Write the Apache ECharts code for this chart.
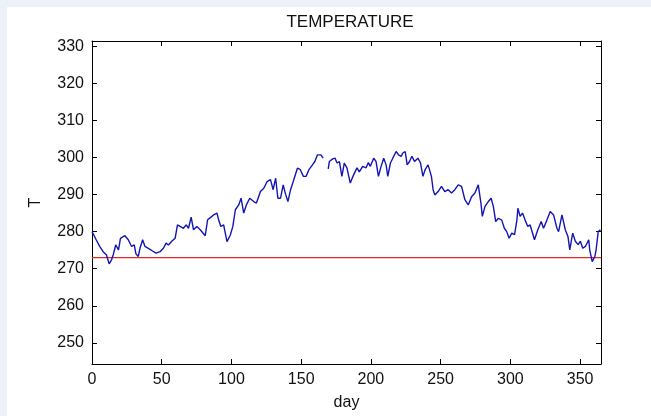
<!DOCTYPE html>
<html>
<head>
<meta charset="utf-8">
<script src="https://cdn.jsdelivr.net/npm/echarts@6/dist/echarts.min.js"></script>
<style>
  html, body { margin: 0; padding: 0; background: #edf2f9; width: 651px; height: 416px; overflow: hidden; }
  #bg { position: absolute; left: 7px; top: 7px; width: 644px; height: 409px; background: #ffffff; }
  #chart { position: absolute; left: 0; top: 0; width: 651px; height: 416px; }
</style>
</head>
<body>
<div id="bg"></div>
<div id="chart"></div>
<script>
// Day of year and temperature (K)
const days = [0,3,5.5,8,10.4,12.3,14,15.2,17,19,20.4,23.6,26,28.4,30.3,31.5,33.2,34.4,36.3,38,40.4,42.8,45.9,48.8,51.2,53.1,54.8,57.2,59.6,61.3,63.2,65.6,67.5,69.2,71.1,72.8,75.2,77.6,81.2,82.9,85.3,87.2,89.6,90.8,92.4,94.4,96.8,99.2,101,102.8,105.2,106.9,108.8,110.7,113.1,116,117.9,120.8,123.2,125.6,128,129.9,131.7,133.3,135.2,137.1,138.8,140.5,142.4,144.3,147.3,149.2,151.6,153.5,155.7,158.1,159.8,161.7,164.1,165.8,167.5,169.4,170.2,172.6,174.3,175.7,177.4,179.2,180.9,182.8,185.2,187.6,190,191.7,194.1,196.5,198.2,199.6,202,203.7,205.4,207.3,209.2,210.9,212.1,214,215.7,218.1,219.8,221.7,222.9,224.6,226,227.7,229.4,231.3,233.7,235.6,237.3,239,241,242.2,243.4,244.6,245.8,248.2,250.6,253,255.4,257.8,260.2,262.6,265,267.4,269.8,272.2,274.6,277,278.9,279.9,281.8,284.2,286.2,287.8,289.5,291.4,293.8,295.7,297.4,299.1,301,303,304.7,305.4,307,308.7,310.6,312.5,314.2,317.3,319.7,322.1,323.8,326.2,328.6,331,333.4,334.6,337,339.4,341.3,342.6,344.7,346.6,348.6,350.2,351.9,353.8,356.2,356.9,358.7,360.6,361.5,363,364.6];
const temps = [280.0,277.8,276.0,274.6,273.7,271.3,272.4,273.7,276.4,275.1,278.2,278.9,277.8,276.0,276.4,274.0,273.3,275.5,277.8,276.0,275.5,274.9,274.2,274.6,275.5,276.9,276.4,277.4,278.2,281.8,281.4,280.9,281.8,280.9,283.9,280.5,281.4,280.5,278.9,283.2,283.9,284.5,285.0,283.2,281.4,281.8,277.3,279.1,281.4,285.9,287.2,289.0,285.0,287.2,289.0,288.1,287.7,290.8,291.7,293.5,294.0,291.3,294.4,289.0,289.0,292.6,290.1,288.1,291.3,293.5,297.1,296.8,294.9,294.9,296.8,298.0,298.9,300.7,300.7,299.8,null,296.9,298.9,299.6,299.8,298.5,298.9,294.9,298.5,297.2,293.1,295.3,297.2,296.1,297.6,297.2,298.6,297.6,299.8,298.9,294.9,297.6,299.8,298.0,294.9,298.5,299.8,301.6,300.7,300.3,301.2,301.6,298.0,298.9,300.3,298.9,299.8,298.5,294.9,296.8,298.0,298.5,294.9,291.3,289.9,290.8,292.2,290.8,291.3,290.4,291.3,292.6,292.2,288.6,287.2,289.4,290.4,292.6,287.7,284.1,286.8,288.1,289.0,286.8,282.7,283.6,283.1,280.9,280.0,278.2,279.6,279.2,283.1,286.3,284.1,285.0,283.1,281.4,281.8,277.8,280.5,282.7,280.9,283.1,285.4,284.5,280.9,280.0,284.5,280.5,278.7,275.1,279.6,277.4,276.5,277.4,275.5,276.0,277.8,275.1,271.9,273.3,275.1,280.0,280.5];
const freezingLine = [[0, 273], [365, 273]];
const xTicks = [0, 50, 100, 150, 200, 250, 300, 350];
const yTicks = [250, 260, 270, 280, 290, 300, 310, 320, 330];

const tempData = days.map((d, i) => [d, temps[i]]);

const font = "'Liberation Sans', Arial, sans-serif";
const X_MIN = 0, X_MAX = 365, Y_MIN = 244.3, Y_MAX = 331.4;

const chart = echarts.init(document.getElementById('chart'), null, { renderer: 'canvas' });

const baseX = {
  type: 'value', min: X_MIN, max: X_MAX,
  axisLine: { show: true, onZero: false, lineStyle: { color: '#000', width: 1 } },
  axisTick: { show: true, inside: true, length: 5, customValues: xTicks, lineStyle: { color: '#000' } },
  splitLine: { show: false }
};
const baseY = {
  type: 'value', min: Y_MIN, max: Y_MAX,
  axisLine: { show: true, onZero: false, lineStyle: { color: '#000', width: 1 } },
  axisTick: { show: true, inside: true, length: 5, customValues: yTicks, lineStyle: { color: '#000' } },
  splitLine: { show: false }
};

chart.setOption({
  animation: false,
  backgroundColor: 'transparent',
  title: {
    text: 'TEMPERATURE', left: 345, top: 9, textAlign: 'center',
    textStyle: { fontFamily: font, fontSize: 17, fontWeight: 'normal', color: '#111' }
  },
  grid: { left: 92, right: 50, top: 41, bottom: 52, containLabel: false },
  xAxis: [
    Object.assign({}, baseX, {
      position: 'bottom',
      name: 'day', nameLocation: 'middle', nameGap: 31,
      nameTextStyle: { fontFamily: font, fontSize: 16, color: '#111' },
      axisLabel: { show: true, customValues: xTicks, margin: 8, fontFamily: font, fontSize: 16, color: '#111' }
    }),
    Object.assign({}, baseX, { position: 'top', axisLabel: { show: false } })
  ],
  yAxis: [
    Object.assign({}, baseY, {
      position: 'left',
      name: 'T', nameLocation: 'middle', nameGap: 48, nameRotate: 90,
      nameTextStyle: { fontFamily: font, fontSize: 16, color: '#111' },
      axisLabel: { show: true, customValues: yTicks, margin: 8, fontFamily: font, fontSize: 16, color: '#111' }
    }),
    Object.assign({}, baseY, { position: 'right', axisLabel: { show: false } })
  ],
  series: [
    {
      type: 'line', data: freezingLine, xAxisIndex: 0, yAxisIndex: 0,
      showSymbol: false, symbol: 'none', lineStyle: { color: '#e02a2a', width: 1.3 }, z: 2
    },
    {
      type: 'line', data: tempData, xAxisIndex: 0, yAxisIndex: 0,
      showSymbol: false, symbol: 'none', connectNulls: false,
      lineStyle: { color: '#1414b4', width: 1.4 }, z: 3
    }
  ]
});
</script>
</body>
</html>
